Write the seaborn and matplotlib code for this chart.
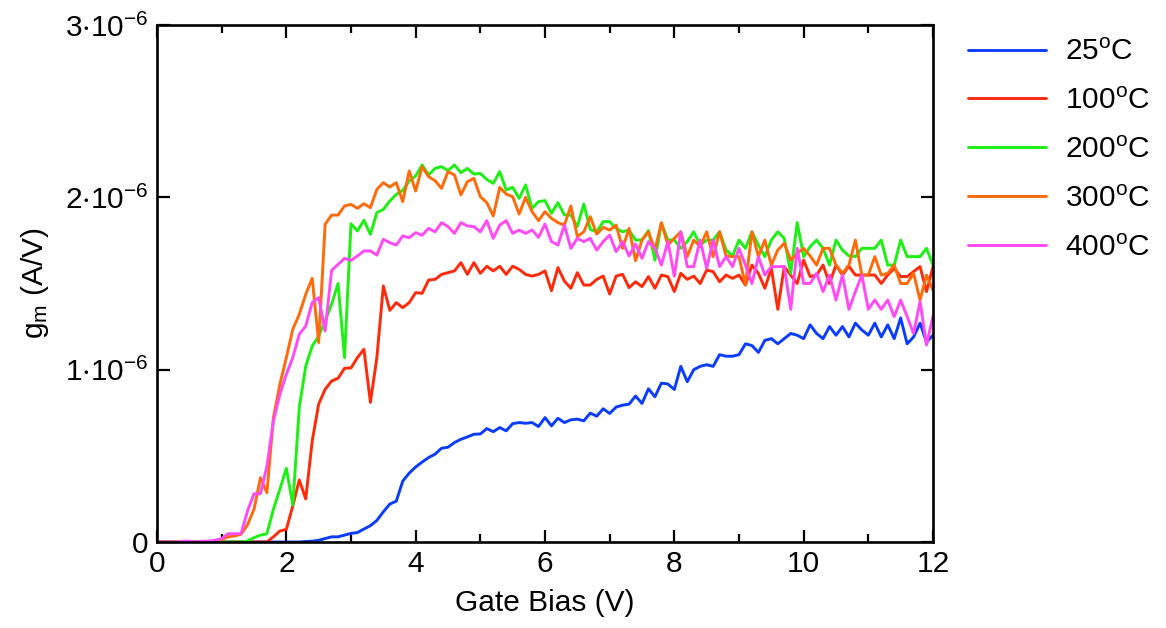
import numpy as np
import pandas as pd
import matplotlib
matplotlib.use("Agg")
import matplotlib.pyplot as plt
from matplotlib.ticker import MultipleLocator, FixedLocator, FuncFormatter
import seaborn as sns

# Gate bias sweep, 0 to 12 V in 0.1 V steps
gate_bias = np.round(np.arange(0, 121) * 0.1, 1)

# Transconductance in units of 1e-6 A/V
gm_25C = [
    0, 0, 0, 0, 0, 0, 0, 0, 0, 0,
    0, 0, 0, 0, 0, 0, 0, 0, 0, 0,
    0, 0, 0, 0.003, 0.005, 0.01, 0.02, 0.03, 0.03, 0.04,
    0.05, 0.055, 0.075, 0.095, 0.125, 0.175, 0.22, 0.237, 0.353, 0.40,
    0.435, 0.464, 0.49, 0.51, 0.544, 0.55, 0.577, 0.596, 0.61, 0.625,
    0.627, 0.658, 0.64, 0.664, 0.645, 0.687, 0.693, 0.689, 0.693, 0.67,
    0.722, 0.674, 0.718, 0.693, 0.709, 0.713, 0.703, 0.748, 0.73, 0.773,
    0.746, 0.783, 0.794, 0.80, 0.847, 0.804, 0.889, 0.843, 0.922, 0.917,
    0.885, 1.019, 0.93, 1.0, 1.019, 1.029, 1.019, 1.087, 1.078, 1.078,
    1.087, 1.15, 1.14, 1.10, 1.17, 1.18, 1.15, 1.18, 1.21, 1.20,
    1.18, 1.26, 1.21, 1.18, 1.25, 1.20, 1.25, 1.19, 1.27, 1.23,
    1.20, 1.27, 1.19, 1.26, 1.18, 1.30, 1.15, 1.19, 1.27, 1.16,
    1.20,
]
gm_100C = [
    0, 0, 0, 0, 0, 0, 0, 0, 0, 0,
    0, 0, 0, 0, 0, 0, 0, 0, 0.03, 0.064,
    0.073, 0.21, 0.36, 0.25, 0.586, 0.80, 0.886, 0.934, 0.95, 1.008,
    1.01, 1.07, 1.118, 0.81, 1.07, 1.486, 1.344, 1.389, 1.36, 1.389,
    1.447, 1.443, 1.52, 1.524, 1.553, 1.563, 1.573, 1.621, 1.553, 1.621,
    1.559, 1.60, 1.573, 1.60, 1.553, 1.60, 1.582, 1.553, 1.543, 1.553,
    1.573, 1.458, 1.592, 1.514, 1.472, 1.563, 1.491, 1.491, 1.524, 1.543,
    1.439, 1.543, 1.553, 1.476, 1.51, 1.482, 1.54, 1.472, 1.549, 1.54,
    1.453, 1.559, 1.524, 1.543, 1.50, 1.578, 1.569, 1.51, 1.549, 1.53,
    1.549, 1.491, 1.607, 1.559, 1.472, 1.588, 1.35, 1.598, 1.549, 1.50,
    1.636, 1.54, 1.549, 1.607, 1.50, 1.607, 1.549, 1.60, 1.549, 1.549,
    1.549, 1.549, 1.50, 1.549, 1.588, 1.54, 1.54, 1.569, 1.598, 1.453,
    1.598,
]
gm_200C = [
    0, 0, 0, 0, 0, 0, 0, 0, 0, 0,
    0, 0, 0, 0, 0.006, 0.025, 0.04, 0.048, 0.19, 0.306,
    0.427, 0.215, 0.78, 1.02, 1.137, 1.195, 1.282, 1.379, 1.50, 1.07,
    1.847, 1.805, 1.867, 1.785, 1.911, 1.93, 1.979, 2.017, 2.04, 2.095,
    2.124, 2.188, 2.13, 2.168, 2.178, 2.155, 2.188, 2.143, 2.168, 2.135,
    2.139, 2.104, 2.081, 2.149, 2.043, 2.058, 1.994, 2.072, 1.936, 1.975,
    1.981, 1.907, 1.969, 1.898, 1.898, 1.83, 1.961, 1.814, 1.80, 1.859,
    1.859, 1.82, 1.80, 1.81, 1.752, 1.752, 1.807, 1.636, 1.849, 1.752,
    1.752, 1.704, 1.743, 1.80, 1.723, 1.752, 1.752, 1.80, 1.694, 1.66,
    1.752, 1.704, 1.80, 1.723, 1.656, 1.752, 1.80, 1.762, 1.559, 1.853,
    1.656, 1.714, 1.752, 1.704, 1.607, 1.752, 1.694, 1.66, 1.656, 1.704,
    1.704, 1.704, 1.752, 1.607, 1.607, 1.752, 1.656, 1.656, 1.656, 1.704,
    1.607,
]
gm_300C = [
    0, 0, 0, 0, 0, 0, 0, 0, 0, 0,
    0.015, 0.03, 0.035, 0.045, 0.10, 0.19, 0.373, 0.286, 0.721, 0.915,
    1.07, 1.234, 1.321, 1.437, 1.53, 1.157, 1.843, 1.897, 1.897, 1.95,
    1.959, 1.936, 1.963, 1.94, 2.046, 2.085, 2.06, 2.085, 1.975, 2.153,
    2.037, 2.178, 2.12, 2.097, 2.052, 2.149, 2.13, 2.014, 2.091, 2.11,
    2.004, 1.969, 1.892, 2.058, 2.019, 2.004, 1.903, 2.00, 1.917, 1.865,
    1.917, 1.878, 1.853, 1.839, 1.95, 1.772, 1.80, 1.888, 1.787, 1.826,
    1.81, 1.839, 1.704, 1.82, 1.632, 1.752, 1.80, 1.694, 1.853, 1.723,
    1.762, 1.80, 1.656, 1.752, 1.714, 1.80, 1.656, 1.80, 1.66, 1.656,
    1.656, 1.491, 1.80, 1.656, 1.752, 1.607, 1.694, 1.733, 1.636, 1.675,
    1.704, 1.66, 1.607, 1.704, 1.704, 1.607, 1.559, 1.607, 1.752, 1.549,
    1.549, 1.656, 1.549, 1.559, 1.607, 1.50, 1.50, 1.559, 1.404, 1.549,
    1.462,
]
gm_400C = [
    0, 0, 0, 0, 0.005, 0.005, 0, 0.005, 0.005, 0.01,
    0.02, 0.048, 0.048, 0.048, 0.18, 0.28, 0.28, 0.441, 0.702, 0.857,
    0.973, 1.07, 1.205, 1.253, 1.389, 1.418, 1.224, 1.576, 1.611, 1.646,
    1.634, 1.66, 1.689, 1.689, 1.665, 1.756, 1.737, 1.723, 1.776, 1.766,
    1.795, 1.78, 1.82, 1.80, 1.853, 1.83, 1.791, 1.853, 1.834, 1.83,
    1.80, 1.865, 1.762, 1.839, 1.865, 1.791, 1.81, 1.791, 1.81, 1.768,
    1.845, 1.743, 1.723, 1.839, 1.704, 1.762, 1.743, 1.762, 1.694, 1.743,
    1.781, 1.685, 1.743, 1.66, 1.729, 1.646, 1.743, 1.704, 1.607, 1.743,
    1.543, 1.80, 1.598, 1.598, 1.752, 1.588, 1.752, 1.598, 1.656, 1.598,
    1.704, 1.607, 1.50, 1.656, 1.549, 1.598, 1.598, 1.598, 1.35, 1.704,
    1.50, 1.50, 1.559, 1.453, 1.549, 1.404, 1.549, 1.35, 1.453, 1.549,
    1.35, 1.404, 1.35, 1.404, 1.308, 1.404, 1.308, 1.21, 1.395, 1.143,
    1.311,
]

temperatures = ["25", "100", "200", "300", "400"]
series = [gm_25C, gm_100C, gm_200C, gm_300C, gm_400C]
colors = ["#0a3cff", "#ff2a0a", "#1ef014", "#ff6a0a", "#ff4af5"]

frames = []
for t, vals in zip(temperatures, series):
    frames.append(pd.DataFrame({
        "bias": gate_bias,
        "gm": np.asarray(vals) * 1e-6,
        "temp": t,
    }))
df = pd.concat(frames, ignore_index=True)

sns.set_theme(style="ticks")
plt.rcParams["font.family"] = ["Liberation Sans", "DejaVu Sans"]
plt.rcParams["mathtext.fontset"] = "custom"
plt.rcParams["mathtext.rm"] = "Liberation Sans"
plt.rcParams["mathtext.it"] = "Liberation Sans:italic"
plt.rcParams["mathtext.bf"] = "Liberation Sans:bold"
for key in ("text.color", "axes.labelcolor", "xtick.color", "ytick.color"):
    plt.rcParams[key] = "black"

fs = 21.5
fig = plt.figure(figsize=(11.66, 6.28), dpi=100)
ax = fig.add_axes([157 / 1166, 1 - 542 / 628, (933 - 157) / 1166, (542 - 25) / 628])

sns.lineplot(data=df, x="bias", y="gm", hue="temp", palette=dict(zip(temperatures, colors)),
             hue_order=temperatures, linewidth=2.1, ax=ax, legend=False, estimator=None)


def sci_label(v, pos):
    n = int(round(v * 1e6))
    if n == 0:
        return "0"
    return r"$\mathregular{%d{\cdot}10^{-6}}$" % n


ax.set_xlim(0, 12)
ax.set_ylim(0, 3e-6)
ax.xaxis.set_major_locator(MultipleLocator(2))
ax.xaxis.set_minor_locator(MultipleLocator(1))
ax.yaxis.set_major_locator(FixedLocator([0, 1e-6, 2e-6, 3e-6]))
ax.yaxis.set_major_formatter(FuncFormatter(sci_label))
ax.xaxis.set_major_formatter(FuncFormatter(lambda v, pos: "%d" % round(v)))
ax.tick_params(which="both", direction="in", top=True, right=True, width=1.6,
               color="black", pad=6, labelsize=fs)
ax.tick_params(which="major", length=9)
ax.tick_params(which="minor", length=5.5)
for sp in ax.spines.values():
    sp.set_linewidth(1.9)
    sp.set_color("black")

ax.set_xlabel("Gate Bias (V)", fontsize=fs, labelpad=8)
ax.set_ylabel(r"g$_{\mathregular{m}}$ (A/V)", fontsize=fs, labelpad=10)

handles = [plt.Line2D([], [], color=c, linewidth=2.1) for c in colors]
labels = [t + r"$^{\mathregular{o}}$C" for t in temperatures]
fig.legend(handles, labels, loc="upper left", bbox_to_anchor=(968 / 1166, 1 - 38 / 628),
           frameon=False, fontsize=fs, handlelength=2.6, handletextpad=0.66,
           labelspacing=0.70, borderpad=0, borderaxespad=0)

fig.savefig("out.png", dpi=100)
